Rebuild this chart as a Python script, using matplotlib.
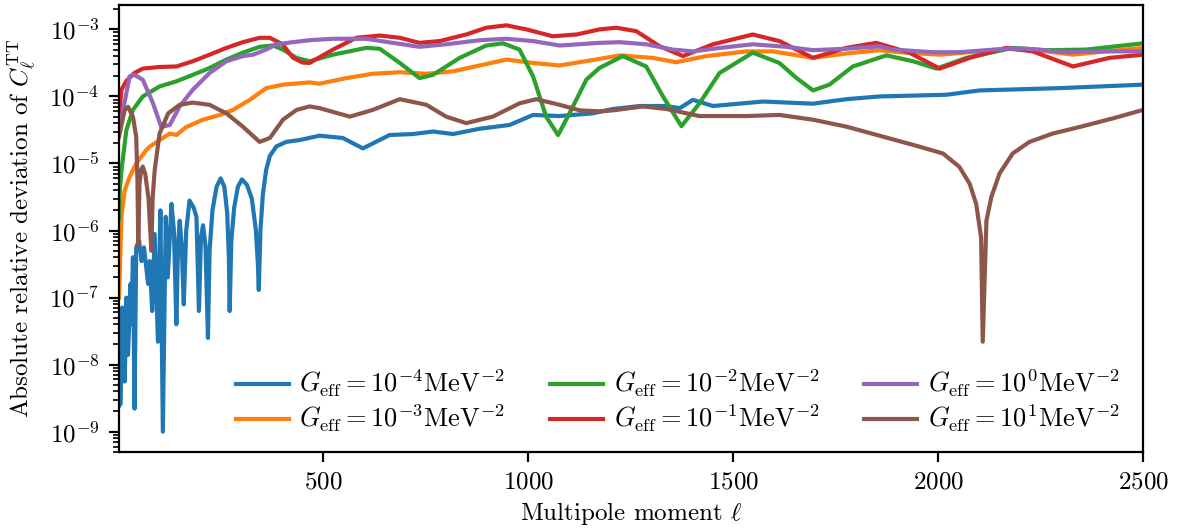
import matplotlib
matplotlib.use('Agg')
import matplotlib.pyplot as plt

# (multipole ell, absolute relative deviation)
g_m4 = [(2, 2.4e-9), (6, 2.6e-9), (10, 7.1e-8), (16, 5.6e-9), (20, 1.0e-7), (24, 1.4e-8),
        (30, 1.6e-7), (32, 4.0e-8), (36, 4.0e-7), (40, 2.2e-9), (44, 5.6e-7), (51, 7.1e-7),
        (57, 3.5e-7), (63, 5.6e-7), (73, 1.6e-7), (77, 3.5e-7), (83, 6.3e-8), (89, 8.9e-7),
        (97, 2.2e-8), (103, 2.0e-6), (109, 1.0e-9), (116, 1.6e-6), (121, 2.0e-7), (130, 2.5e-6),
        (136, 1.0e-6), (142, 4.0e-8), (146, 6.0e-7), (150, 1.4e-6), (155, 6.0e-7), (160, 7.9e-8),
        (166, 1.0e-6), (174, 2.8e-6), (184, 2.2e-6), (191, 1.6e-6), (197, 6.3e-8), (202, 8.0e-7),
        (207, 1.2e-6), (213, 6.0e-7), (219, 2.5e-8), (223, 5.0e-7), (230, 2.0e-6), (240, 4.5e-6),
        (250, 6.0e-6), (259, 4.5e-6), (266, 1.8e-6), (270, 4.0e-7), (272, 6.3e-8), (276, 7.0e-7),
        (283, 2.2e-6), (292, 4.5e-6), (302, 5.8e-6), (314, 4.8e-6), (326, 3.0e-6), (336, 1.0e-6),
        (341, 3.0e-7), (343, 1.3e-7), (347, 1.0e-6), (353, 3.5e-6), (361, 8.0e-6), (370, 1.3e-5),
        (386, 1.8e-5), (410, 2.1e-5), (443, 2.24e-5), (491, 2.6e-5), (548, 2.4e-5), (597, 1.68e-5),
        (662, 2.66e-5), (719, 2.75e-5), (768, 3.0e-5), (817, 2.75e-5), (882, 3.3e-5), (955, 3.76e-5),
        (1012, 5.3e-5), (1077, 5.1e-5), (1109, 5.3e-5), (1158, 5.6e-5), (1207, 6.5e-5), (1272, 7.2e-5),
        (1337, 7.2e-5), (1370, 6.7e-5), (1402, 8.9e-5), (1451, 7.2e-5), (1573, 8.4e-5), (1695, 7.8e-5),
        (1776, 9.1e-5), (1857, 1.0e-4), (2020, 1.06e-4), (2101, 1.23e-4), (2296, 1.33e-4), (2500, 1.5e-4)]

g_m3 = [(2, 1.0e-7), (8, 1.6e-6), (16, 4.0e-6), (28, 6.3e-6), (44, 1.0e-5), (69, 1.6e-5),
        (77, 1.78e-5), (101, 2.24e-5), (126, 2.8e-5), (142, 2.66e-5), (166, 3.5e-5), (207, 4.5e-5),
        (248, 5.3e-5), (280, 6.3e-5), (321, 8.9e-5), (361, 1.33e-4), (402, 1.5e-4), (467, 1.62e-4),
        (491, 1.55e-4), (557, 1.88e-4), (621, 2.18e-4), (687, 2.3e-4), (752, 2.18e-4), (817, 2.37e-4),
        (882, 2.9e-4), (947, 3.55e-4), (1012, 3.16e-4), (1077, 2.9e-4), (1174, 3.63e-4), (1223, 4.1e-4),
        (1304, 3.76e-4), (1361, 3.24e-4), (1435, 4.0e-4), (1532, 4.7e-4), (1597, 4.7e-4), (1695, 3.76e-4),
        (1776, 4.37e-4), (1857, 4.9e-4), (1906, 4.57e-4), (2004, 4.2e-4), (2077, 4.57e-4), (2166, 5.15e-4),
        (2264, 4.7e-4), (2329, 4.2e-4), (2410, 4.7e-4), (2500, 5.3e-4)]

g_m2 = [(2, 1.5e-6), (4, 4.0e-6), (8, 7.9e-6), (20, 3.16e-5), (36, 6.3e-5), (60, 1.0e-4),
        (101, 1.41e-4), (142, 1.68e-4), (182, 2.1e-4), (223, 2.66e-4), (264, 3.55e-4), (304, 4.5e-4),
        (345, 5.5e-4), (378, 5.75e-4), (402, 5.0e-4), (435, 3.76e-4), (467, 3.35e-4), (524, 4.2e-4),
        (605, 5.3e-4), (638, 5.15e-4), (687, 3.16e-4), (735, 1.88e-4), (768, 2.1e-4), (833, 3.76e-4),
        (898, 5.75e-4), (939, 6.2e-4), (979, 5.0e-4), (1012, 2.0e-4), (1044, 5.0e-5), (1073, 2.66e-5),
        (1101, 5.6e-5), (1142, 1.78e-4), (1174, 2.66e-4), (1231, 4.0e-4), (1288, 2.8e-4), (1329, 1.0e-4),
        (1374, 3.6e-5), (1418, 7.9e-5), (1467, 2.24e-4), (1548, 4.5e-4), (1613, 3.16e-4), (1654, 1.9e-4),
        (1695, 1.23e-4), (1735, 1.5e-4), (1792, 2.8e-4), (1874, 4.1e-4), (1939, 3.35e-4), (1996, 2.6e-4),
        (2069, 3.76e-4), (2182, 5.3e-4), (2264, 4.9e-4), (2361, 5.0e-4), (2500, 6.2e-4)]

g_m1 = [(2, 5.0e-5), (8, 1.26e-4), (20, 1.7e-4), (40, 2.25e-4), (60, 2.6e-4), (100, 2.75e-4),
        (142, 2.8e-4), (182, 3.35e-4), (223, 4.2e-4), (264, 5.3e-4), (304, 6.45e-4), (345, 7.5e-4),
        (370, 7.5e-4), (401, 6.0e-4), (426, 3.8e-4), (450, 3.2e-4), (467, 3.16e-4), (524, 5.0e-4),
        (581, 7.5e-4), (638, 8.1e-4), (687, 7.5e-4), (735, 6.3e-4), (784, 6.7e-4), (849, 8.4e-4),
        (898, 1.06e-3), (947, 1.15e-3), (996, 1.0e-3), (1060, 7.9e-4), (1118, 8.4e-4), (1174, 1.0e-3),
        (1215, 1.06e-3), (1264, 9.4e-4), (1321, 5.6e-4), (1378, 4.0e-4), (1451, 6.0e-4), (1548, 8.4e-4),
        (1613, 6.7e-4), (1695, 3.76e-4), (1776, 5.3e-4), (1849, 6.3e-4), (1930, 4.5e-4), (2004, 2.6e-4),
        (2077, 3.76e-4), (2166, 5.3e-4), (2231, 4.7e-4), (2329, 2.8e-4), (2418, 3.76e-4), (2500, 4.2e-4)]

g_p0 = [(2, 3.0e-5), (12, 6.3e-5), (28, 2.0e-4), (40, 2.1e-4), (60, 1.78e-4), (85, 7.9e-5),
        (105, 3.5e-5), (126, 3.76e-5), (150, 7.1e-5), (182, 1.26e-4), (223, 2.24e-4), (264, 3.35e-4),
        (304, 4.0e-4), (329, 4.2e-4), (361, 5.0e-4), (386, 6.0e-4), (426, 6.45e-4), (467, 6.9e-4),
        (523, 7.25e-4), (605, 7.25e-4), (670, 6.3e-4), (735, 5.5e-4), (800, 6.0e-4), (882, 6.9e-4),
        (947, 7.25e-4), (1012, 6.7e-4), (1077, 5.75e-4), (1174, 6.3e-4), (1223, 6.45e-4), (1288, 6.0e-4),
        (1353, 5.0e-4), (1402, 4.7e-4), (1468, 5.3e-4), (1548, 6.0e-4), (1630, 5.5e-4), (1695, 4.9e-4),
        (1776, 5.15e-4), (1857, 5.6e-4), (1890, 5.0e-4), (1987, 4.57e-4), (2052, 4.57e-4), (2166, 5.15e-4),
        (2215, 5.15e-4), (2313, 4.57e-4), (2394, 4.7e-4), (2500, 4.7e-4)]

g_p1 = [(2, 2.5e-5), (16, 6.3e-5), (24, 7.0e-5), (36, 5.0e-5), (44, 2.5e-5), (47, 6.0e-6),
        (49, 6.0e-7), (52, 5.0e-6), (56, 8.0e-6), (60, 9.0e-6), (66, 7.0e-6), (74, 3.0e-6),
        (81, 5.0e-7), (84, 3.0e-6), (89, 7.9e-6), (101, 2.8e-5), (122, 5.6e-5), (150, 7.5e-5),
        (182, 8.1e-5), (223, 7.5e-5), (264, 5.6e-5), (304, 3.55e-5), (345, 2.1e-5), (370, 2.4e-5),
        (402, 4.5e-5), (435, 6.3e-5), (467, 7.1e-5), (491, 6.7e-5), (565, 5.0e-5), (621, 6.3e-5),
        (687, 9.1e-5), (752, 7.5e-5), (800, 5.0e-5), (849, 4.0e-5), (914, 5.0e-5), (979, 7.9e-5),
        (1020, 9.1e-5), (1077, 7.5e-5), (1126, 6.2e-5), (1174, 6.0e-5), (1207, 6.2e-5), (1280, 7.1e-5),
        (1337, 6.5e-5), (1418, 5.1e-5), (1532, 5.1e-5), (1613, 5.3e-5), (1695, 4.5e-5), (1776, 3.55e-5),
        (1857, 2.6e-5), (1955, 1.78e-5), (2012, 1.41e-5), (2052, 8.9e-6), (2077, 5.0e-6), (2093, 2.5e-6),
        (2105, 7.9e-7), (2109, 2.2e-8), (2118, 1.41e-6), (2130, 3.16e-6), (2150, 7.1e-6), (2182, 1.41e-5),
        (2223, 2.1e-5), (2280, 2.8e-5), (2345, 3.5e-5), (2426, 4.7e-5), (2500, 6.3e-5)]

series = [g_m4, g_m3, g_m2, g_m1, g_p0, g_p1]
exponents = ['-4', '-3', '-2', '-1', '0', '1']

plt.rcParams['font.family'] = 'serif'
plt.rcParams['font.serif'] = ['cmr10']
plt.rcParams['mathtext.fontset'] = 'cm'
plt.rcParams['axes.formatter.use_mathtext'] = True
plt.rcParams['font.size'] = 9

fig, ax = plt.subplots(figsize=(5.92, 2.645), dpi=200)
fig.subplots_adjust(left=0.1005, right=0.9654, top=0.9905, bottom=0.1456)

for pts, ex in zip(series, exponents):
    ell = [p[0] for p in pts]
    dev = [p[1] for p in pts]
    ax.plot(ell, dev, label=r'$G_{\rm eff} = 10^{%s}{\rm MeV}^{-2}$' % ex)

ax.set_yscale('log')
ax.set_xlim(2, 2500)
ax.set_xlabel(r'Multipole moment $\ell$', labelpad=2.5)
ax.set_ylabel(r'Absolute relative deviation of $C_\ell^{\rm TT}$')
ax.legend(ncol=3, loc='lower right', bbox_to_anchor=(1.0, -0.014), frameon=False,
          fontsize=9.5, handletextpad=0.4, columnspacing=1.7, labelspacing=0.15)

fig.savefig('out.png', dpi=200)
